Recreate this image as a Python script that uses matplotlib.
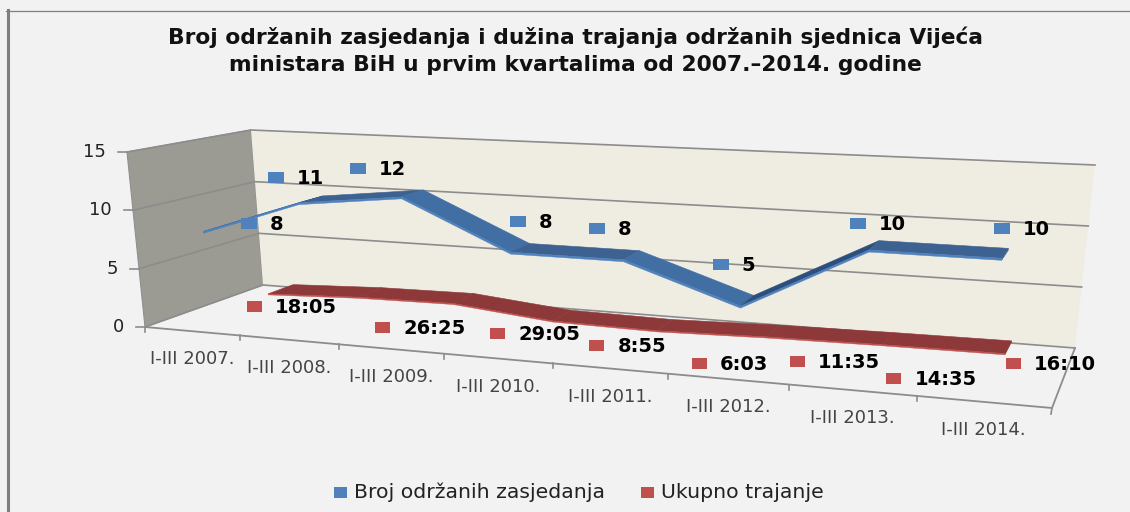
import matplotlib
matplotlib.use("Agg")
import matplotlib.pyplot as plt
from matplotlib.patches import Polygon, Rectangle

# chart values
categories = ["I-III 2007.", "I-III 2008.", "I-III 2009.", "I-III 2010.",
              "I-III 2011.", "I-III 2012.", "I-III 2013.", "I-III 2014."]
sessions = [8, 11, 12, 8, 8, 5, 10, 10]
durations = ["18:05", "26:25", "29:05", "8:55", "6:03", "11:35", "14:35", "16:10"]
value_ticks = [0, 5, 10, 15]

title = ("Broj održanih zasjedanja i dužina trajanja održanih sjednica Vijeća\n"
         "ministara BiH u prvim kvartalima od 2007.–2014. godine")
series_names = ["Broj održanih zasjedanja", "Ukupno trajanje"]

# the box of the 3D chart on screen, (category, value, depth) corners in pixels
VMAX = 15
FLB, FLT = (145, 327), (127, 152)
BLB, BLT = (263, 285), (251, 130)
FRB, FRT = (1052, 408), (1075, 201)
BRB, BRT = (1075, 348), (1095, 165)
PERSPECTIVE = 1.222

BLUE = "#4f81bd"
RED = "#c0504d"
GRID = "#8c8c8c"


def mix(a, b, t):
    return (a[0] + (b[0] - a[0]) * t, a[1] + (b[1] - a[1]) * t)


def project(cat, value, depth):
    s = cat / len(categories)
    t = s / (s + PERSPECTIVE * (1 - s))
    v = value / VMAX
    left = mix(mix(FLB, FLT, v), mix(BLB, BLT, v), depth)
    right = mix(mix(FRB, FRT, v), mix(BRB, BRT, v), depth)
    return mix(left, right, t)


def to_days(text):
    h, m = text.split(":")
    return (int(h) + int(m) / 60) / 24


def ribbon(ax, values, d0, d1, top_colors, lip_color, lip):
    for i in range(len(values) - 1):
        a, b = values[i], values[i + 1]
        slope = b - a
        if slope > 1.5:
            col = top_colors[2]
        elif slope < -0.5:
            col = top_colors[1]
        else:
            col = top_colors[0]
        ax.add_patch(Polygon([project(i + 0.5, a, d0), project(i + 1.5, b, d0),
                              project(i + 1.5, b, d1), project(i + 0.5, a, d1)],
                             fc=col, ec=col, lw=0.4, zorder=4))
        ax.add_patch(Polygon([project(i + 0.5, a, d0), project(i + 1.5, b, d0),
                              project(i + 1.5, b - lip, d0), project(i + 0.5, a - lip, d0)],
                             fc=lip_color, ec=lip_color, lw=0.3, zorder=5))
    # closing end of the ribbon
    n = len(values) - 0.5
    ax.add_patch(Polygon([project(n, values[-1], d0), project(n, values[-1], d1),
                          project(n, values[-1] - lip, d1), project(n, values[-1] - lip, d0)],
                         fc=top_colors[0], ec=top_colors[0], lw=0.3, zorder=4))


fig = plt.figure(figsize=(11.30, 5.12), dpi=100, facecolor="#f2f2f2")
ax = fig.add_axes([0, 0, 1, 1])
ax.set_xlim(0, 1130)
ax.set_ylim(512, 0)
ax.axis("off")

# frame of the picture
ax.plot([7.5, 7.5], [10, 512], color="#7f7f7f", lw=2.2, zorder=1)
ax.plot([6, 1130], [10.5, 10.5], color="#7f7f7f", lw=0.9, zorder=1)

# walls
ax.add_patch(Polygon([FLB, FLT, BLT, BLB], fc="#9b9b93", ec="#8f8f8f", lw=0.8, zorder=1))
ax.add_patch(Polygon([BLB, BLT, BRT, BRB], fc="#efede2", ec="none", zorder=1))

# gridlines and value axis
for v in value_ticks:
    ax.plot(*zip(project(0, v, 0), project(0, v, 1), project(8, v, 1)),
            color=GRID, lw=1.2, zorder=2)
    x, y = project(0, v, 0)
    ax.plot([x - 9, x], [y, y], color=GRID, lw=1.2, zorder=2)
    ax.text(x - 21, y, str(v), ha="right", va="center", fontsize=13,
            color="#222222", zorder=6)

# floor edge and category labels
ax.plot(*zip(project(0, 0, 0), project(8, 0, 0), project(8, 0, 1)),
        color=GRID, lw=1.3, zorder=2)
ax.plot(*zip(project(8, 0, 0), (1051, 414)), color=GRID, lw=1.2, zorder=2)
for i, name in enumerate(categories):
    x, y = project(i, 0, 0)
    ax.plot([x, x], [y, y + 5], color=GRID, lw=1.2, zorder=2)
    x, y = project(i + 0.5, 0, 0)
    ax.text(x, y + 28, name, ha="center", va="center", fontsize=13,
            color="#444444", zorder=6)

# series ribbons, red one is behind the blue one
day_values = [to_days(d) for d in durations]
ribbon(ax, day_values, 0.68, 0.90, ("#8e3939", "#8e3939", "#8e3939"), RED, 0.1)
ribbon(ax, sessions, 0.17, 0.40, ("#3d6291", "#426fa3", "#2c4f7d"), BLUE, 0.16)

# data labels with their keys, offsets from the ribbon point in pixels
blue_offsets = [(46, -8), (-23, -25), (-44, -28), (7, -31), (-27, -31), (-20, -42), (-11, -26), (0, -30)]
red_offsets = [(-14, 13), (24, 30), (44, 30), (44, 25), (42, 33), (30, 25), (11, 34), (8, 10)]

for i, (val, off) in enumerate(zip(sessions, blue_offsets)):
    x, y = project(i + 0.5, val, 0.17)
    x, y = x + off[0], y + off[1]
    ax.add_patch(Rectangle((x - 8, y - 5.5), 16, 11, fc=BLUE, ec="none", zorder=7))
    ax.text(x + 21, y + 1, str(val), ha="left", va="center", fontsize=14,
            fontweight="bold", color="black", zorder=7)

for i, (val, lab, off) in enumerate(zip(day_values, durations, red_offsets)):
    x, y = project(i + 0.5, val, 0.68)
    x, y = x + off[0], y + off[1]
    ax.add_patch(Rectangle((x - 7.5, y - 5.5), 15, 11, fc=RED, ec="none", zorder=7))
    ax.text(x + 21, y + 1, lab, ha="left", va="center", fontsize=14,
            fontweight="bold", color="black", zorder=7)

fig.text(575 / 1130, 1 - 50.5 / 512, title, ha="center", va="center", fontsize=15.7,
         fontweight="bold", color="#111111", linespacing=1.42)

# legend
for name, col, kx in zip(series_names, [BLUE, RED], [340, 647]):
    ax.add_patch(Rectangle((kx - 6.5, 486.5), 13, 11, fc=col, ec="none", zorder=7))
    ax.text(kx + 14, 492, name, ha="left", va="center", fontsize=14.7, color="#222222", zorder=7)

fig.savefig("out.png", dpi=100, facecolor=fig.get_facecolor())
